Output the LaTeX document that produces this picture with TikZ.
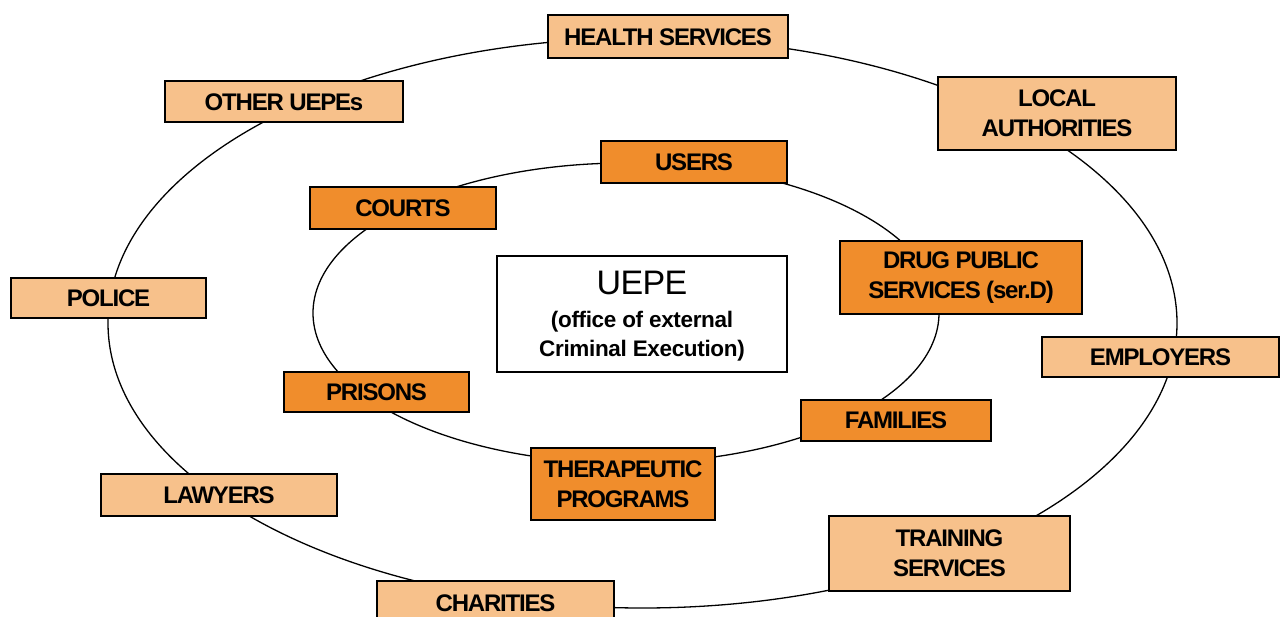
\documentclass[tikz,border=0pt]{standalone}
\usepackage{fontspec}
\setmainfont{Liberation Sans}
\newfontfamily\lblfont[LetterSpace=-5]{Liberation Sans Bold}
\newfontfamily\subfont[LetterSpace=-1.5]{Liberation Sans Bold}
\newfontfamily\titfont[LetterSpace=-2]{Liberation Sans}
\definecolor{lightor}{HTML}{F7C18B}
\definecolor{darkor}{HTML}{F08D2C}
\tikzset{
  every node/.style={font=\lblfont\fontsize{24}{30}\selectfont},
  box/.style={draw=black, line width=2pt, inner sep=0pt, align=center},
  outerbox/.style={box, fill=lightor},
  innerbox/.style={box, fill=darkor},
  ring/.style={line width=1.3pt},
}
\begin{document}
\begin{tikzpicture}[x=1pt,y=-1pt]
\useasboundingbox (0,0) rectangle (1282,617);
\fill[white] (0,0) rectangle (1282,617);
% rings
\draw[ring] (642.5,323) ellipse [x radius=534.5, y radius=285];
\draw[ring] (626,313) ellipse [x radius=313, y radius=150];
% outer boxes
\node[outerbox, minimum width=240pt, minimum height=43pt] (health) at (668,37) {HEALTH SERVICES};
\node[outerbox, minimum width=238pt, minimum height=41pt] (other) at (284,102) {OTHER UEPEs};
\node[outerbox, minimum width=238pt, minimum height=73pt] (local) at (1057,113.5) {LOCAL\\AUTHORITIES};
\node[outerbox, minimum width=195pt, minimum height=40pt] (police) at (108.5,298) {POLICE};
\node[outerbox, minimum width=237pt, minimum height=40pt] (employers) at (1160.5,357) {EMPLOYERS};
\node[outerbox, minimum width=236pt, minimum height=42pt] (lawyers) at (219,495) {LAWYERS};
\node[outerbox, minimum width=237pt, minimum height=44pt] (charities) at (495.5,603) {CHARITIES};
\node[outerbox, minimum width=241pt, minimum height=75pt] (training) at (949.5,553.5) {TRAINING\\SERVICES};
% inner boxes
\node[innerbox, minimum width=186pt, minimum height=42pt] (users) at (694,162) {USERS};
\node[innerbox, minimum width=186pt, minimum height=42pt] (courts) at (403,208) {COURTS};
\node[innerbox, minimum width=242pt, minimum height=73pt] (drug) at (961,277.5) {DRUG PUBLIC\\SERVICES (ser.D)};
\node[innerbox, minimum width=185pt, minimum height=40pt] (prisons) at (376.5,392) {PRISONS};
\node[innerbox, minimum width=190pt, minimum height=41pt] (families) at (896,420.5) {FAMILIES};
\node[innerbox, minimum width=184pt, minimum height=72pt] (thera) at (623,484) {THERAPEUTIC\\PROGRAMS};
% centre
\node[draw=black, line width=1.3pt, fill=white, minimum width=290pt, minimum height=116pt, inner sep=0pt] (uepe) at (642,314) {};
\node[font=\titfont\fontsize{34}{36}\selectfont] (uepet) at (642,283) {UEPE};
\node[align=center, font=\subfont\fontsize{22.5}{29}\selectfont] (uepes) at (642,336) {(office of external\\Criminal Execution)};
\end{tikzpicture}
\end{document}
